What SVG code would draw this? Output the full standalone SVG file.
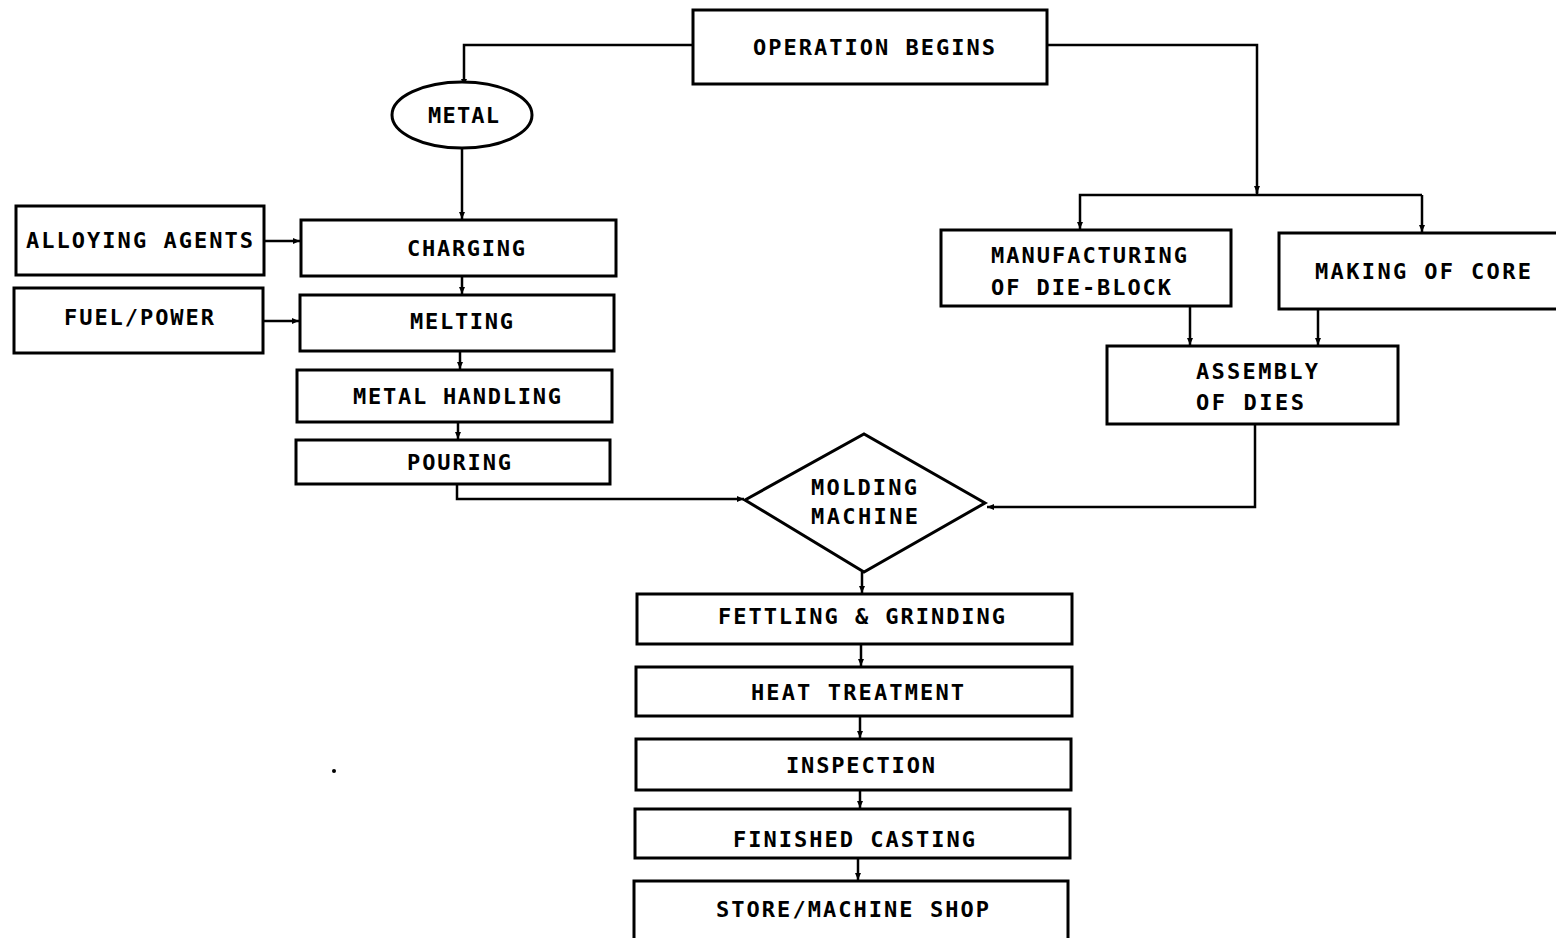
<svg xmlns="http://www.w3.org/2000/svg" width="1556" height="938" viewBox="0 0 1556 938">
  <style>
    .box { fill: #fff; stroke: #000; stroke-width: 3; }
    .lbl { font-family: "DejaVu Sans Mono", "Liberation Mono", monospace; font-weight: bold; font-size: 22px; fill: #000; }
    .wire { fill: none; stroke: #000; stroke-width: 2.5; marker-end: url(#tip); }
    .wire-plain { fill: none; stroke: #000; stroke-width: 2.5; }
  </style>
  <defs>
    <marker id="tip" markerUnits="userSpaceOnUse" markerWidth="8" markerHeight="10" refX="7" refY="4" orient="auto">
      <path d="M0,1 L7,4 L0,7 Z" fill="#000"/>
    </marker>
  </defs>
  <rect width="1556" height="938" fill="#fff"/>

  <g id="connectors">
    <path class="wire" d="M693,45 H464 V86"/>
    <path class="wire-plain" d="M1047,45 H1257 V195"/>
    <path class="wire" d="M1257,186 V193"/>
    <path class="wire" d="M1422,195 H1080 V229"/>
    <path class="wire" d="M1422,195 V232"/>
    <path class="wire" d="M462,148 V219"/>
    <path class="wire" d="M264,241 H300"/>
    <path class="wire" d="M263,321 H299"/>
    <path class="wire" d="M462,276 V294"/>
    <path class="wire" d="M460,351 V369"/>
    <path class="wire" d="M458,422 V439"/>
    <path class="wire" d="M457,484 V499 H744"/>
    <path class="wire" d="M1190,306 V345"/>
    <path class="wire" d="M1318,309 V345"/>
    <path class="wire" d="M1255,424 V507 H987"/>
    <path class="wire" d="M862,572 V593"/>
    <path class="wire" d="M861,644 V666"/>
    <path class="wire" d="M860,716 V738"/>
    <path class="wire" d="M860,790 V808"/>
    <path class="wire" d="M858,858 V880"/>
  </g>

  <g id="operation-begins">
    <rect class="box" x="693" y="10" width="354" height="74"/>
    <text class="lbl" x="753" y="55" textLength="242" lengthAdjust="spacing">OPERATION BEGINS</text>
  </g>

  <g id="metal">
    <ellipse class="box" cx="462" cy="115" rx="70" ry="33"/>
    <text class="lbl" x="428" y="123" textLength="71" lengthAdjust="spacing">METAL</text>
  </g>

  <g id="alloying-agents">
    <rect class="box" x="16" y="206" width="248" height="69"/>
    <text class="lbl" x="26" y="248" textLength="227" lengthAdjust="spacing">ALLOYING AGENTS</text>
  </g>

  <g id="charging">
    <rect class="box" x="301" y="220" width="315" height="56"/>
    <text class="lbl" x="407" y="256" textLength="118" lengthAdjust="spacing">CHARGING</text>
  </g>

  <g id="fuel-power">
    <rect class="box" x="14" y="288" width="249" height="65"/>
    <text class="lbl" x="64" y="325" textLength="150" lengthAdjust="spacing">FUEL/POWER</text>
  </g>

  <g id="melting">
    <rect class="box" x="300" y="295" width="314" height="56"/>
    <text class="lbl" x="410" y="329" textLength="103" lengthAdjust="spacing">MELTING</text>
  </g>

  <g id="metal-handling">
    <rect class="box" x="297" y="370" width="315" height="52"/>
    <text class="lbl" x="353" y="404" textLength="208" lengthAdjust="spacing">METAL HANDLING</text>
  </g>

  <g id="pouring">
    <rect class="box" x="296" y="440" width="314" height="44"/>
    <text class="lbl" x="407" y="470" textLength="104" lengthAdjust="spacing">POURING</text>
  </g>

  <g id="die-block">
    <rect class="box" x="941" y="230" width="290" height="76"/>
    <text class="lbl" x="991" y="263" textLength="196" lengthAdjust="spacing">MANUFACTURING</text>
    <text class="lbl" x="991" y="295" textLength="180" lengthAdjust="spacing">OF DIE-BLOCK</text>
  </g>

  <g id="making-of-core">
    <rect class="box" x="1279" y="233" width="290" height="76"/>
    <text class="lbl" x="1315" y="279" textLength="216" lengthAdjust="spacing">MAKING OF CORE</text>
  </g>

  <g id="assembly-of-dies">
    <rect class="box" x="1107" y="346" width="291" height="78"/>
    <text class="lbl" x="1196" y="379" textLength="122" lengthAdjust="spacing">ASSEMBLY</text>
    <text class="lbl" x="1196" y="410" textLength="108" lengthAdjust="spacing">OF DIES</text>
  </g>

  <g id="molding-machine">
    <polygon class="box" points="745,500 864,434 985,503 864,572"/>
    <text class="lbl" x="811" y="495" textLength="106" lengthAdjust="spacing">MOLDING</text>
    <text class="lbl" x="811" y="524" textLength="107" lengthAdjust="spacing">MACHINE</text>
  </g>

  <g id="fettling-grinding">
    <rect class="box" x="637" y="594" width="435" height="50"/>
    <text class="lbl" x="718" y="624" textLength="287" lengthAdjust="spacing">FETTLING &amp; GRINDING</text>
  </g>

  <g id="heat-treatment">
    <rect class="box" x="636" y="667" width="436" height="49"/>
    <text class="lbl" x="751" y="700" textLength="213" lengthAdjust="spacing">HEAT TREATMENT</text>
  </g>

  <g id="inspection">
    <rect class="box" x="636" y="739" width="435" height="51"/>
    <text class="lbl" x="786" y="773" textLength="149" lengthAdjust="spacing">INSPECTION</text>
  </g>

  <g id="finished-casting">
    <rect class="box" x="635" y="809" width="435" height="49"/>
    <text class="lbl" x="733" y="847" textLength="242" lengthAdjust="spacing">FINISHED CASTING</text>
  </g>

  <g id="store-machine-shop">
    <rect class="box" x="634" y="881" width="434" height="60"/>
    <text class="lbl" x="716" y="917" textLength="273" lengthAdjust="spacing">STORE/MACHINE SHOP</text>
  </g>

  <circle cx="334" cy="771" r="2" fill="#000"/>
</svg>
